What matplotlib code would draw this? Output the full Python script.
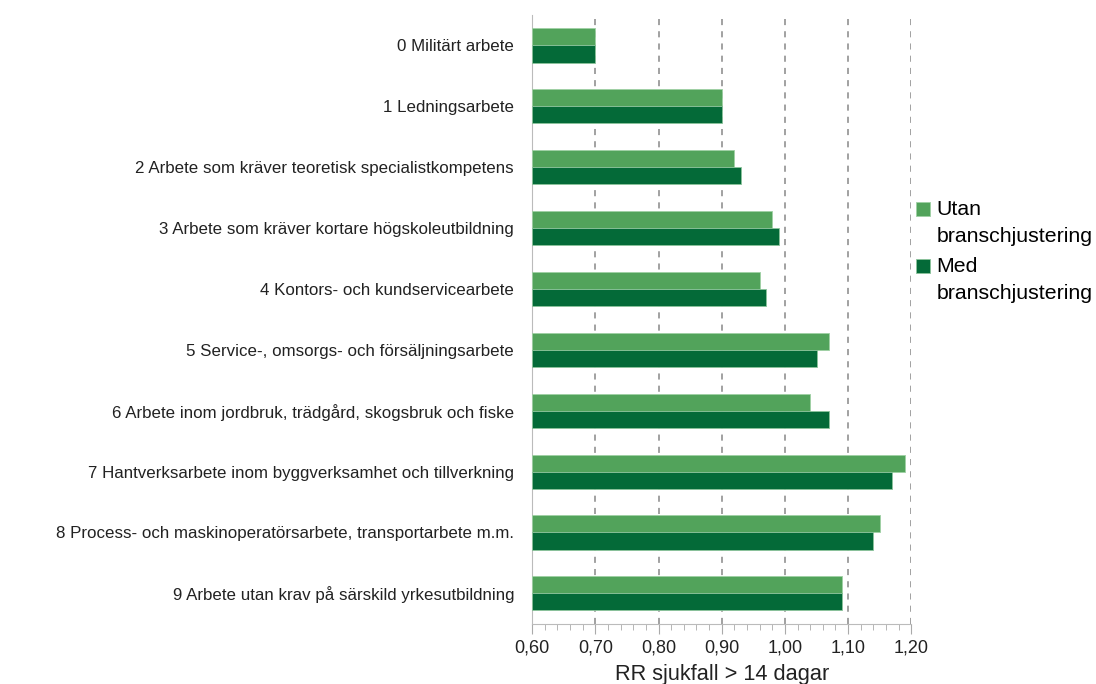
import matplotlib.pyplot as plt
import matplotlib.patches as mpatches
from matplotlib.legend_handler import HandlerPatch
import numpy as np

plt.rcParams['font.family'] = ['Liberation Sans', 'DejaVu Sans']

categories = ['0 Militärt arbete',
              '1 Ledningsarbete',
              '2 Arbete som kräver teoretisk specialistkompetens',
              '3 Arbete som kräver kortare högskoleutbildning',
              '4 Kontors- och kundservicearbete',
              '5 Service-, omsorgs- och försäljningsarbete',
              '6 Arbete inom jordbruk, trädgård, skogsbruk och fiske',
              '7 Hantverksarbete inom byggverksamhet och tillverkning',
              '8 Process- och maskinoperatörsarbete, transportarbete m.m.',
              '9 Arbete utan krav på särskild yrkesutbildning']
utan = [0.70, 0.90, 0.92, 0.98, 0.96, 1.07, 1.04, 1.19, 1.15, 1.09]
med = [0.70, 0.90, 0.93, 0.99, 0.97, 1.05, 1.07, 1.17, 1.14, 1.09]
xticks = [0.60, 0.70, 0.80, 0.90, 1.00, 1.10, 1.20]

c_utan = '#52a35b'
c_med = '#046a38'

fig = plt.figure(figsize=(10.96, 6.84), dpi=100)
ax = fig.add_axes([0.4855, 0.088, 0.346, 0.890])

y = np.arange(len(categories))
h = 0.28
ax.barh(y - h/2, np.array(utan) - 0.6, left=0.6, height=h, color=c_utan,
        edgecolor='#9fd0a4', linewidth=0.6, zorder=3)
ax.barh(y + h/2, np.array(med) - 0.6, left=0.6, height=h, color=c_med,
        edgecolor='#8cc49b', linewidth=0.6, zorder=3)

ax.set_xlim(0.6, 1.2)
ax.set_ylim(len(categories) - 0.5, -0.5)
ax.set_xticks(xticks)
ax.set_xticklabels([('%.2f' % v).replace('.', ',') for v in xticks], fontsize=13, color='#222222')
ax.set_xticks(np.arange(0.6, 1.2001, 0.02), minor=True)
ax.tick_params(axis='x', which='major', length=7, color='#aaaaaa', pad=4)
ax.tick_params(axis='x', which='minor', length=4, color='#aaaaaa')
ax.set_yticks(y)
ax.set_yticklabels(categories, fontsize=12.2, color='#222222')
ax.tick_params(axis='y', length=0, pad=13)

ax.xaxis.grid(True, linestyle=(0, (4, 4)), color='#888888', linewidth=1.1, zorder=0)
for s in ['top', 'right']:
    ax.spines[s].set_visible(False)
ax.spines['left'].set_color('#bbbbbb')
ax.spines['bottom'].set_color('#bbbbbb')

# label sits at the bottom edge like in the original
ax.set_xlabel('RR sjukfall > 14 dagar', fontsize=15.7, color='#222222', labelpad=6)


# legend square next to the first line of the two-line label
def top_square(legend, orig_handle, xdescent, ydescent, width, height, fontsize):
    return mpatches.Rectangle((-xdescent, -ydescent + 0.66 * fontsize), width, height)


p1 = mpatches.Patch(facecolor=c_utan, edgecolor='#9fd0a4', linewidth=0.6)
p2 = mpatches.Patch(facecolor=c_med, edgecolor='#8cc49b', linewidth=0.6)
leg = ax.legend([p1, p2], ['Utan\nbranschjustering', 'Med\nbranschjustering'],
                loc='upper left', bbox_to_anchor=(0.99, 0.71), frameon=False, fontsize=15.3,
                handlelength=0.65, handleheight=0.65, handletextpad=0.3, labelspacing=0.55,
                borderaxespad=0,
                handler_map={mpatches.Patch: HandlerPatch(patch_func=top_square)})
for t in leg.get_texts():
    t.set_linespacing(1.5)

plt.savefig('out.png')
